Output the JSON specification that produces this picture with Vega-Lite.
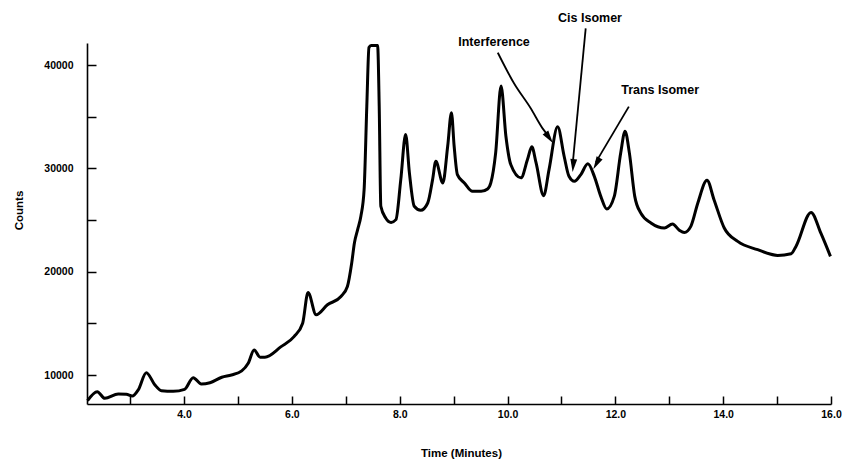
{
  "$schema": "https://vega.github.io/schema/vega-lite/v6.json",
  "width": 744,
  "height": 361,
  "autosize": {"type": "none"},
  "padding": {"left": 87, "top": 43, "right": 11, "bottom": 55},
  "background": "white",
  "config": {
    "view": {"stroke": null},
    "font": "Liberation Sans",
    "axis": {
      "grid": false,
      "domainColor": "black",
      "domainWidth": 1.6,
      "tickColor": "black",
      "tickWidth": 1.5,
      "labelColor": "black",
      "labelFontWeight": "bold",
      "labelFontSize": 10.5,
      "titleColor": "black",
      "titleFontWeight": "bold",
      "titleFontSize": 11.5,
      "labelOverlap": false,
      "labelFlush": false
    }
  },
  "datasets": {
    "trace": [
      {"t": 2.21, "c": 7520}, {"t": 2.39, "c": 8390}, {"t": 2.53, "c": 7750}, {"t": 2.78, "c": 8170},
      {"t": 2.93, "c": 8140}, {"t": 3.04, "c": 7970}, {"t": 3.15, "c": 8560}, {"t": 3.30, "c": 10230},
      {"t": 3.46, "c": 9040}, {"t": 3.58, "c": 8490}, {"t": 3.80, "c": 8430}, {"t": 4.01, "c": 8620},
      {"t": 4.17, "c": 9750}, {"t": 4.32, "c": 9140}, {"t": 4.48, "c": 9260}, {"t": 4.70, "c": 9790},
      {"t": 4.88, "c": 10010}, {"t": 5.07, "c": 10400}, {"t": 5.19, "c": 11140}, {"t": 5.30, "c": 12430},
      {"t": 5.41, "c": 11730}, {"t": 5.50, "c": 11730}, {"t": 5.80, "c": 12750}, {"t": 6.04, "c": 13720},
      {"t": 6.20, "c": 15020}, {"t": 6.30, "c": 17990}, {"t": 6.45, "c": 15830}, {"t": 6.66, "c": 16800},
      {"t": 6.91, "c": 17600}, {"t": 7.03, "c": 18570}, {"t": 7.11, "c": 20840}, {"t": 7.16, "c": 22780},
      {"t": 7.22, "c": 24070}, {"t": 7.28, "c": 25360}, {"t": 7.34, "c": 27940}, {"t": 7.39, "c": 36020},
      {"t": 7.43, "c": 41700}, {"t": 7.47, "c": 41900}, {"t": 7.59, "c": 41900}, {"t": 7.62, "c": 36020},
      {"t": 7.65, "c": 26330}, {"t": 7.74, "c": 25200}, {"t": 7.84, "c": 24770}, {"t": 7.93, "c": 25040},
      {"t": 8.02, "c": 28910}, {"t": 8.11, "c": 33280}, {"t": 8.18, "c": 29560}, {"t": 8.27, "c": 26330},
      {"t": 8.39, "c": 25940}, {"t": 8.52, "c": 26650}, {"t": 8.61, "c": 28910}, {"t": 8.67, "c": 30690},
      {"t": 8.80, "c": 28590}, {"t": 8.89, "c": 32140}, {"t": 8.96, "c": 35380}, {"t": 9.01, "c": 32140},
      {"t": 9.07, "c": 29400}, {"t": 9.20, "c": 28590}, {"t": 9.35, "c": 27780}, {"t": 9.51, "c": 27780},
      {"t": 9.63, "c": 28010}, {"t": 9.69, "c": 28590}, {"t": 9.78, "c": 31500}, {"t": 9.88, "c": 37960},
      {"t": 9.97, "c": 33110}, {"t": 10.06, "c": 30370}, {"t": 10.25, "c": 29080}, {"t": 10.37, "c": 30850},
      {"t": 10.45, "c": 32080}, {"t": 10.53, "c": 30530}, {"t": 10.67, "c": 27360}, {"t": 10.77, "c": 29880},
      {"t": 10.93, "c": 34020}, {"t": 11.05, "c": 31170}, {"t": 11.14, "c": 29230}, {"t": 11.24, "c": 28750},
      {"t": 11.36, "c": 29400}, {"t": 11.49, "c": 30440}, {"t": 11.61, "c": 29230}, {"t": 11.73, "c": 27290},
      {"t": 11.84, "c": 26070}, {"t": 11.98, "c": 27290}, {"t": 12.10, "c": 31500}, {"t": 12.18, "c": 33600},
      {"t": 12.26, "c": 31500}, {"t": 12.36, "c": 27290}, {"t": 12.47, "c": 25690}, {"t": 12.66, "c": 24720},
      {"t": 12.91, "c": 24230}, {"t": 13.06, "c": 24620}, {"t": 13.19, "c": 24000}, {"t": 13.28, "c": 23800},
      {"t": 13.40, "c": 24390}, {"t": 13.53, "c": 26650}, {"t": 13.70, "c": 28850}, {"t": 13.83, "c": 26970},
      {"t": 14.02, "c": 24230}, {"t": 14.27, "c": 22930}, {"t": 14.64, "c": 22130}, {"t": 15.01, "c": 21580},
      {"t": 15.26, "c": 21740}, {"t": 15.35, "c": 22450}, {"t": 15.63, "c": 25740}, {"t": 15.81, "c": 23750},
      {"t": 15.99, "c": 21480}
    ],
    "arrows": [
      {"id": "Interference", "t": 9.82, "c": 41190},
      {"id": "Interference", "t": 10.12, "c": 38230},
      {"id": "Interference", "t": 10.43, "c": 35810},
      {"id": "Interference", "t": 10.65, "c": 33870},
      {"id": "Interference", "t": 10.78, "c": 33000},
      {"id": "Cis", "t": 11.21, "c": 30500},
      {"id": "Cis", "t": 11.45, "c": 43550},
      {"id": "Trans", "t": 11.64, "c": 30600},
      {"id": "Trans", "t": 12.25, "c": 35970}
    ],
    "heads": [
      {"id": "Interference", "t": 10.76, "c": 33050},
      {"id": "Cis", "t": 11.22, "c": 30380},
      {"id": "Trans", "t": 11.66, "c": 30560}
    ],
    "notes": [
      {"label": "Interference", "t": 9.75, "c": 42230},
      {"label": "Cis Isomer", "t": 11.53, "c": 44520},
      {"label": "Trans Isomer", "t": 12.83, "c": 37580}
    ]
  },
  "layer": [
    {
      "data": {"name": "trace"},
      "mark": {"type": "line", "color": "black", "strokeWidth": 3, "interpolate": "monotone"},
      "encoding": {
        "x": {
          "field": "t", "type": "quantitative",
          "scale": {"domain": [2.2, 16], "nice": false, "zero": false},
          "axis": {
            "title": "Time (Minutes)",
            "values": [3, 4, 5, 6, 7, 8, 9, 10, 11, 12, 13, 14, 15, 16],
            "labelExpr": "datum.value % 2 === 0 ? format(datum.value, '.1f') : ''",
            "tickSize": -8,
            "labelPadding": 13,
            "titleX": 374,
            "titleY": 49,
            "titleBaseline": "middle"
          }
        },
        "y": {
          "field": "c", "type": "quantitative",
          "scale": {"domain": [7200, 42130], "nice": false, "zero": false},
          "axis": {
            "title": "Counts",
            "values": [10000, 15000, 20000, 25000, 30000, 35000, 40000],
            "format": "d",
            "labelExpr": "datum.value % 10000 === 0 ? datum.label : ''",
            "tickSize": -9,
            "labelPadding": 23,
            "titleX": -68,
            "titleY": 167,
            "titleBaseline": "middle"
          }
        }
      }
    },
    {
      "data": {"name": "arrows"},
      "mark": {"type": "line", "color": "black", "strokeWidth": 1.8, "interpolate": "monotone"},
      "encoding": {
        "x": {"field": "t", "type": "quantitative"},
        "y": {"field": "c", "type": "quantitative"},
        "detail": {"field": "id"}
      }
    },
    {
      "data": {"name": "heads"},
      "transform": [{"filter": "datum.id === 'Interference'"}],
      "mark": {"type": "point", "shape": "M0,-1L0.45,0.7L-0.45,0.7Z", "filled": true, "color": "black", "opacity": 1, "size": 230, "angle": 145},
      "encoding": {
        "x": {"field": "t", "type": "quantitative"},
        "y": {"field": "c", "type": "quantitative"}
      }
    },
    {
      "data": {"name": "heads"},
      "transform": [{"filter": "datum.id === 'Cis'"}],
      "mark": {"type": "point", "shape": "M0,-1L0.45,0.7L-0.45,0.7Z", "filled": true, "color": "black", "opacity": 1, "size": 230, "angle": 185},
      "encoding": {
        "x": {"field": "t", "type": "quantitative"},
        "y": {"field": "c", "type": "quantitative"}
      }
    },
    {
      "data": {"name": "heads"},
      "transform": [{"filter": "datum.id === 'Trans'"}],
      "mark": {"type": "point", "shape": "M0,-1L0.45,0.7L-0.45,0.7Z", "filled": true, "color": "black", "opacity": 1, "size": 230, "angle": 209},
      "encoding": {
        "x": {"field": "t", "type": "quantitative"},
        "y": {"field": "c", "type": "quantitative"}
      }
    },
    {
      "data": {"name": "notes"},
      "mark": {"type": "text", "font": "Liberation Sans", "fontWeight": "bold", "fontSize": 12.5, "color": "black", "align": "center", "baseline": "middle"},
      "encoding": {
        "x": {"field": "t", "type": "quantitative"},
        "y": {"field": "c", "type": "quantitative"},
        "text": {"field": "label"}
      }
    }
  ]
}
